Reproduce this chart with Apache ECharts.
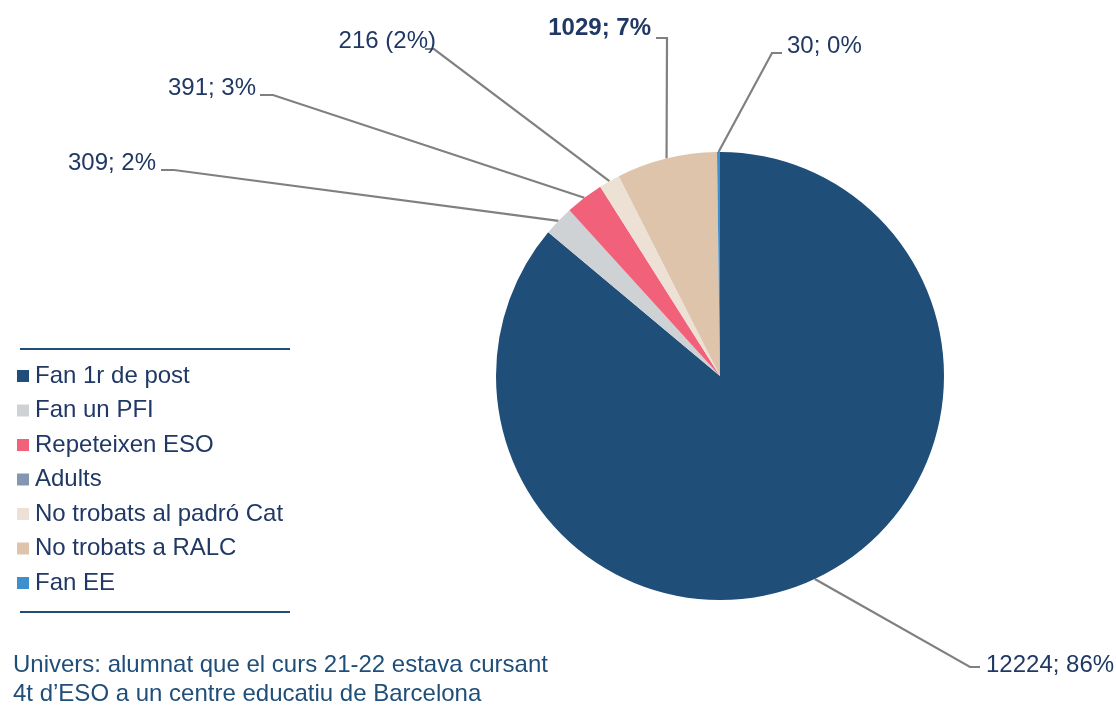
<!DOCTYPE html>
<html>
<head>
<meta charset="utf-8">
<script src="https://cdn.jsdelivr.net/npm/echarts@6/dist/echarts.min.js"></script>
<style>
  html, body { margin: 0; padding: 0; background: #fff; }
  #chart { width: 1116px; height: 706px; }
</style>
</head>
<body>
<div id="chart"></div>
<script>
// Dades del gràfic
const categories = ['Fan 1r de post', 'Fan un PFI', 'Repeteixen ESO', 'Adults', 'No trobats al padró Cat', 'No trobats a RALC', 'Fan EE'];
const values = [12224, 309, 391, 0, 216, 1029, 30];
const colors = ['#1F4E78', '#CFD2D5', '#F1627A', '#8497B0', '#EDE1D6', '#DDC4AB', '#3F8FCC'];
const footnote = ['Univers: alumnat que el curs 21-22 estava cursant', '4t d\u2019ESO a un centre educatiu de Barcelona'];

const FONT = 'Liberation Sans, Arial, sans-serif';
const TEXT_COLOR = '#203864';

// Posició de cada etiqueta: punt del text i colze de la línia
const labelSpots = {
    0: { x: 986, y: 665, align: 'left', elbow: [970, 667], end: [980, 667] },
    1: { x: 156, y: 163, align: 'right', elbow: [174, 170], end: [161, 170] },
    2: { x: 256, y: 88, align: 'right', elbow: [273, 95], end: [260, 95] },
    4: { x: 436, y: 41, align: 'right', elbow: [434, 49], end: [425, 49] },
    5: { x: 651, y: 28, align: 'right', elbow: [667, 38], end: [656, 38] },
    6: { x: 787, y: 46, align: 'left', elbow: [772, 53], end: [782, 53] }
};

const data = categories.map((name, i) => {
    const item = { name, value: values[i], itemStyle: { color: colors[i] } };
    if (values[i] === 0) {
        item.label = { show: false };
        item.labelLine = { show: false };
    }
    if (name === 'No trobats al padró Cat') item.label = { formatter: '{c} ({d}%)' };
    if (name === 'No trobats a RALC') item.label = { fontWeight: 'bold' };
    return item;
});

const chart = echarts.init(document.getElementById('chart'));

const option = {
    backgroundColor: '#ffffff',
    animation: false,
    legend: {
        orient: 'vertical',
        left: 17,
        top: 364,
        padding: 0,
        icon: 'rect',
        itemWidth: 12,
        itemHeight: 12,
        itemGap: 10.5,
        selectedMode: false,
        textStyle: { fontFamily: FONT, fontSize: 24, lineHeight: 24, color: TEXT_COLOR, padding: [0, 0, 0, 1] },
        data: categories
    },
    graphic: [
        { type: 'line', shape: { x1: 20, y1: 349, x2: 290, y2: 349 }, style: { stroke: '#1F4E78', lineWidth: 2 } },
        { type: 'line', shape: { x1: 20, y1: 612, x2: 290, y2: 612 }, style: { stroke: '#1F4E78', lineWidth: 2 } },
        {
            type: 'text', left: 13, top: 651,
            style: { text: footnote.join('\n'), font: '24px ' + FONT, lineHeight: 29, fill: '#1F4E79' }
        }
    ],
    series: [{
        type: 'pie',
        center: [720, 376],
        radius: 224,
        startAngle: 90,
        clockwise: true,
        avoidLabelOverlap: false,
        percentPrecision: 0,
        data,
        label: {
            show: true,
            position: 'outside',
            formatter: '{c}; {d}%',
            fontFamily: FONT,
            fontSize: 24,
            color: TEXT_COLOR
        },
        labelLine: {
            show: true,
            length: 20,
            length2: 10,
            lineStyle: { color: '#808080', width: 2.2 }
        },
        labelLayout: params => {
            const spot = labelSpots[params.dataIndex];
            if (!spot) return {};
            const start = params.labelLinePoints ? params.labelLinePoints[0] : spot.elbow;
            return {
                x: spot.x,
                y: spot.y,
                align: spot.align,
                verticalAlign: 'middle',
                labelLinePoints: [start, spot.elbow, spot.end]
            };
        },
        emphasis: { disabled: true }
    }]
};

chart.setOption(option);
</script>
</body>
</html>
